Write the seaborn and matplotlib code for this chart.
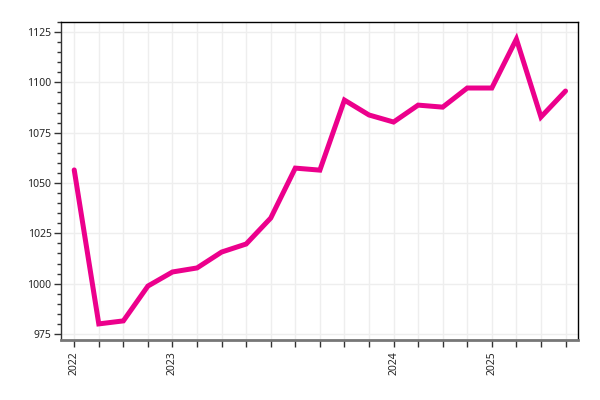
import numpy as np
import pandas as pd
import seaborn as sns
import matplotlib.pyplot as plt
from matplotlib.ticker import MultipleLocator, FixedLocator

# values, one per period
values = [1056.5, 980.0, 981.5, 998.8, 1005.8, 1007.8, 1015.7, 1019.7, 1032.6,
          1057.4, 1056.4, 1091.2, 1083.8, 1080.3, 1088.7, 1087.7, 1097.2,
          1097.2, 1121.5, 1082.8, 1095.7]
tick_labels = ["2022", "", "", "", "2023", "", "", "", "", "", "", "", "", "2024",
               "", "", "", "2025", "", "", ""]

df = pd.DataFrame({"idx": np.arange(len(values)), "value": values})

sns.set_style("white")
plt.rcParams["font.family"] = ["Noto Sans", "DejaVu Sans"]

fig, ax = plt.subplots(figsize=(6, 4), dpi=100)
fig.subplots_adjust(left=0.102, right=0.963, top=0.945, bottom=0.15)

sns.lineplot(data=df, x="idx", y="value", color="#EC008C", linewidth=3.6,
             solid_joinstyle="miter", ax=ax)

ax.set_xlim(-0.53, 20.5)
ax.set_ylim(972, 1130)
ax.xaxis.set_major_locator(FixedLocator(df["idx"]))
ax.set_xticklabels(tick_labels, rotation=90, fontsize=7.5)
ax.yaxis.set_major_locator(MultipleLocator(25))
ax.yaxis.set_minor_locator(MultipleLocator(5))
ax.tick_params(axis="y", which="major", length=5, width=1, labelsize=7.5,
               left=True, color="#333333", pad=2)
ax.tick_params(axis="y", which="minor", length=3, width=1, left=True, color="#333333")
ax.tick_params(axis="x", which="major", length=5, width=1, bottom=True,
               color="#333333", pad=3)

ax.grid(True, which="major", color="#eeeeee", linewidth=1)
ax.set_xlabel("")
ax.set_ylabel("")

for side in ["top", "right"]:
    ax.spines[side].set_color("black")
    ax.spines[side].set_linewidth(1)
ax.spines["left"].set_color("#333333")
ax.spines["left"].set_linewidth(1)
ax.spines["bottom"].set_color("#777777")
ax.spines["bottom"].set_linewidth(2)

plt.savefig("out.png", dpi=100)
